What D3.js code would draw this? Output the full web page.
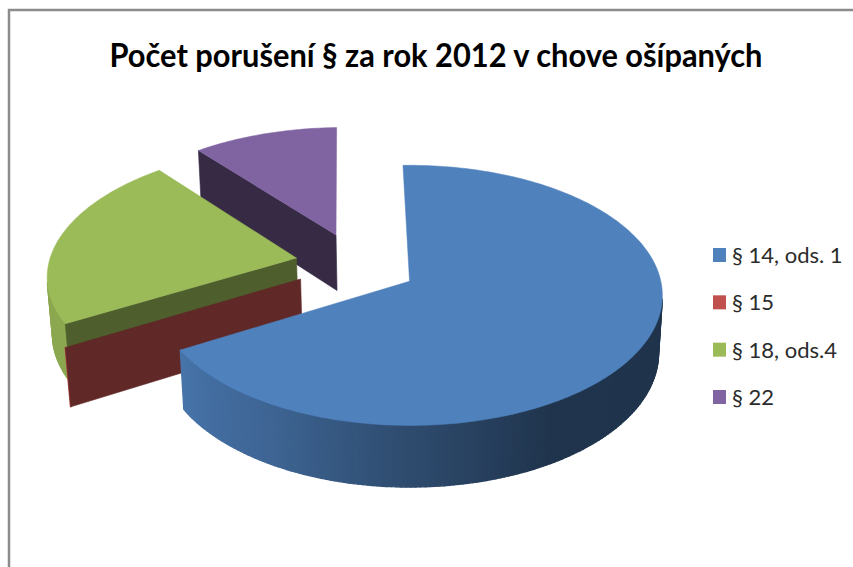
<!DOCTYPE html>
<html><head><meta charset="utf-8">
<script src="https://d3js.org/d3.v7.min.js"></script>
<style>html,body{margin:0;padding:0;background:#fff}svg{display:block}</style>
</head><body><svg id="c" width="853" height="567"></svg>
<script>
const title = "Počet porušení § za rok 2012 v chove ošípaných";
const categories = ["§ 14, ods. 1", "§ 15", "§ 18, ods.4", "§ 22"];
const values = [67.0, 0.05, 22.35, 10.6];
const colors = ["#4f81bd", "#c0504d", "#9bbb59", "#8064a2"];
// Exploded-slice offset in pie-radius units (right, toward viewer)
const explodeU = [0.01, -0.42, -0.444, -0.291];
const explodeV = [-0.006, -0.023, -0.188, -0.377];
const wallDark = [.5, .5, .5, .42];
const drawOrder = [3, 2, 1, 0];

const svg = d3.select("#c");
const toRad = Math.PI / 180;
// Perspective projection of the pie plane onto the page
const P = {x0: 407, y0: 282, rx: 254, ry: 130, depth: 58, k: 0.11, m: 0.015};
function proj(u, v, h) {
  const w = 1 - P.k * v + P.m * h;
  return [P.x0 + P.rx * u / w, P.y0 + (P.ry * v + P.depth * h) / w];
}
const area = pts => d3.polygonArea(pts);
const shade = d3.scaleLinear().domain([90, 150, 180, 210, 240, 300]).range([.40, .41, .58, .78, .90, .90]).clamp(true);
const tint = (c, f) => { const r = d3.rgb(c); return d3.rgb(r.r * f, r.g * f, r.b * f).formatHex(); };
const line = d3.line();

svg.append("rect").attr("x", 0).attr("y", 0).attr("width", 853).attr("height", 567).attr("fill", "#fff");
svg.append("path").attr("d", "M9,567V10H853").attr("fill", "none").attr("stroke", "#8c8c8c").attr("stroke-width", 2.5);

const pie = d3.pie().sort(null).value(d => d).startAngle(-1.6 * toRad).endAngle(358.4 * toRad);
const arcs = pie(values);
const gPie = svg.append("g");
const r = 0.99;

drawOrder.forEach(i => {
  const a = arcs[i], c = colors[i], eu = explodeU[i], ev = explodeV[i];
  const pt = t => [eu + r * Math.sin(t), ev - r * Math.cos(t)];
  const apex = [eu, ev];
  const deg0 = a.startAngle / toRad, deg1 = a.endAngle / toRad;
  const n = Math.max(1, Math.ceil(deg1 - deg0));
  const angs = d3.range(n + 1).map(j => a.startAngle + (a.endAngle - a.startAngle) * j / n);
  const g = gPie.append("g").attr("class", "slice");
  const quad = (p, q) => [proj(p[0], p[1], 0), proj(q[0], q[1], 0), proj(q[0], q[1], 1), proj(p[0], p[1], 1)];
  const face = (p, q, col, sw, minArea) => {
    const Q = quad(p, q);
    if (area(Q) > minArea) g.append("path").attr("d", line(Q) + "Z").attr("fill", col).attr("stroke", col).attr("stroke-width", sw).attr("stroke-linejoin", "round");
  };
  // rim wall, shaded by angle
  for (let j = 0; j < n; j++) {
    const mid = ((angs[j] + angs[j + 1]) / 2 / toRad + 360) % 360;
    face(pt(angs[j]), pt(angs[j + 1]), tint(c, shade(mid)), 1.4, 0);
  }
  // radial wall facing the viewer (edge-on slivers are skipped)
  face(apex, pt(a.startAngle), tint(c, wallDark[i]), .6, 1000);
  // top surface
  if (deg1 - deg0 > 1) {
    const top = [apex, ...angs.map(pt)].map(p => proj(p[0], p[1], 0));
    g.append("path").attr("d", line(top) + "Z").attr("fill", c).attr("stroke", c).attr("stroke-width", .5);
  }
});

svg.append("text").attr("x", 436).attr("y", 67).attr("text-anchor", "middle")
  .attr("font-family", "Lato, 'Open Sans', sans-serif").attr("font-weight", 700).attr("font-size", 33)
  .attr("fill", "#000").attr("textLength", 653).attr("lengthAdjust", "spacingAndGlyphs").text(title);

const rows = d3.scalePoint().domain(categories).range([255, 397]);
const legend = svg.append("g").selectAll("g").data(categories).join("g")
  .attr("transform", d => `translate(713,${rows(d)})`);
legend.append("rect").attr("x", 0).attr("y", -7).attr("width", 13).attr("height", 14)
  .attr("fill", (d, i) => colors[i]);
legend.append("text").attr("x", 19).attr("y", 8).attr("font-family", "Lato, sans-serif").attr("font-size", 22)
  .attr("fill", "#2b2b2b").text(d => d);
</script></body></html>
